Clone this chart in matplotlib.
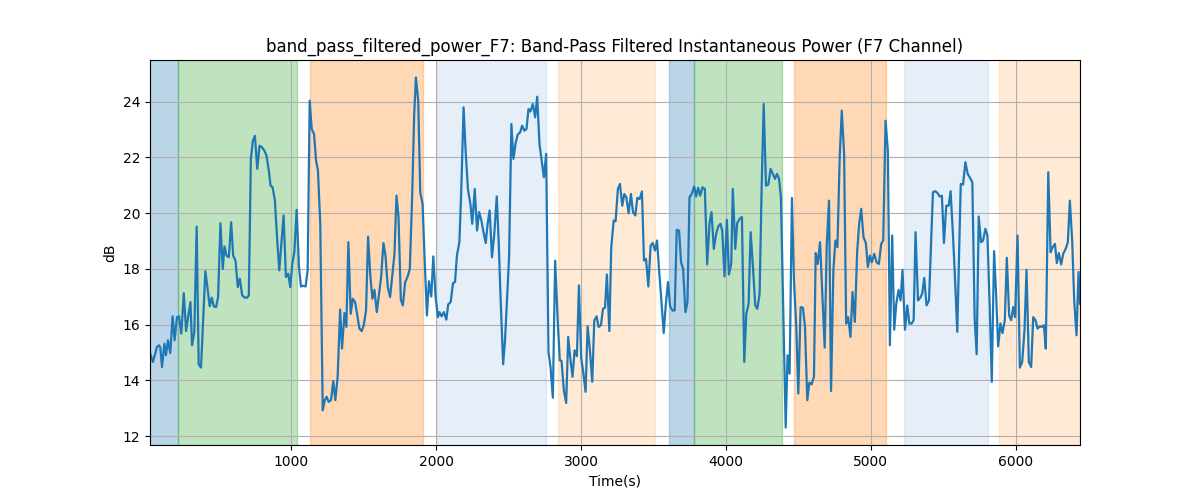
import matplotlib
matplotlib.use("Agg")
import matplotlib.pyplot as plt

times = [25, 45, 73, 87, 96, 108, 124, 135, 149, 165, 181, 195, 211, 225, 241, 258, 274, 288, 304, 315,
         331, 347, 361, 377, 407, 421, 437, 451, 465, 481, 495, 511, 527, 539, 553, 569, 585, 599, 615, 631,
         645, 661, 679, 695, 707, 721, 735, 749, 765, 781, 799, 815, 829, 845, 857, 871, 887, 903, 917, 947,
         963, 979, 993, 1007, 1021, 1037, 1053, 1067, 1083, 1099, 1113, 1127, 1141, 1157, 1171, 1184, 1200, 1217, 1231, 1244,
         1258, 1274, 1290, 1304, 1320, 1337, 1350, 1367, 1380, 1394, 1410, 1424, 1440, 1454, 1470, 1486, 1500, 1516, 1530, 1546,
         1560, 1574, 1590, 1606, 1620, 1636, 1650, 1666, 1682, 1696, 1712, 1726, 1740, 1756, 1770, 1786, 1802, 1818, 1834, 1848,
         1860, 1876, 1890, 1906, 1920, 1936, 1950, 1966, 1980, 1996, 2012, 2023, 2037, 2053, 2070, 2083, 2100, 2116, 2130, 2143,
         2160, 2173, 2189, 2203, 2219, 2236, 2249, 2266, 2282, 2296, 2312, 2325, 2342, 2355, 2369, 2385, 2401, 2418, 2431, 2445,
         2462, 2475, 2489, 2503, 2519, 2533, 2549, 2563, 2579, 2593, 2609, 2623, 2637, 2650, 2667, 2683, 2697, 2713, 2729, 2743,
         2759, 2775, 2789, 2805, 2821, 2837, 2853, 2865, 2881, 2897, 2911, 2927, 2941, 2955, 2971, 2985, 3001, 3015, 3031, 3045,
         3061, 3077, 3091, 3107, 3121, 3137, 3151, 3165, 3178, 3195, 3208, 3225, 3238, 3254, 3268, 3284, 3298, 3312, 3328, 3344,
         3358, 3374, 3388, 3404, 3420, 3434, 3448, 3464, 3480, 3494, 3510, 3524, 3540, 3554, 3570, 3584, 3600, 3614, 3630, 3646,
         3660, 3676, 3690, 3704, 3720, 3734, 3748, 3764, 3780, 3794, 3808, 3822, 3838, 3854, 3870, 3886, 3900, 3916, 3932, 3946,
         3962, 3974, 3990, 4006, 4020, 4036, 4047, 4064, 4077, 4094, 4110, 4126, 4140, 4156, 4170, 4186, 4202, 4216, 4232, 4246,
         4260, 4276, 4292, 4308, 4322, 4338, 4352, 4366, 4379, 4396, 4412, 4425, 4439, 4455, 4469, 4485, 4499, 4515, 4531, 4545,
         4561, 4575, 4591, 4607, 4619, 4633, 4649, 4665, 4681, 4695, 4711, 4725, 4741, 4755, 4769, 4785, 4799, 4815, 4829, 4843,
         4859, 4873, 4889, 4905, 4919, 4933, 4949, 4965, 4979, 4993, 5006, 5023, 5039, 5055, 5071, 5085, 5101, 5117, 5131, 5147,
         5161, 5175, 5191, 5205, 5218, 5235, 5251, 5265, 5281, 5295, 5308, 5325, 5341, 5354, 5368, 5384, 5401, 5414, 5428, 5444,
         5460, 5474, 5490, 5504, 5520, 5537, 5550, 5566, 5580, 5596, 5610, 5620, 5636, 5652, 5668, 5684, 5700, 5716, 5730, 5744,
         5760, 5774, 5790, 5804, 5820, 5834, 5850, 5864, 5878, 5894, 5908, 5924, 5938, 5954, 5968, 5982, 5995, 6012, 6028, 6044,
         6060, 6074, 6090, 6106, 6120, 6136, 6150, 6166, 6180, 6194, 6207, 6224, 6240, 6254, 6270, 6283, 6297, 6313, 6327, 6344,
         6359, 6373, 6389, 6403, 6419, 6433, 6443]

power_db = [14.98, 14.66, 15.2, 15.26, 15.18, 14.48, 15.32, 14.9, 15.44, 14.98, 16.3, 15.44, 16.27, 16.3, 15.68, 17.13, 15.77, 16.27, 16.81, 15.26,
            15.74, 19.52, 14.58, 14.46, 17.92, 17.35, 16.66, 16.97, 16.66, 16.63, 16.99, 19.64, 18.0, 18.81, 18.48, 18.42, 19.68, 18.48, 18.3, 17.35,
            17.65, 17.05, 16.97, 16.97, 17.05, 21.95, 22.6, 22.78, 21.59, 22.42, 22.36, 22.24, 22.07, 21.53, 20.99, 20.93, 20.45, 19.02, 17.95, 19.92,
            17.71, 17.83, 17.35, 18.18, 18.6, 20.12, 18.07, 17.37, 17.4, 17.37, 17.95, 24.04, 23.02, 22.84, 21.89, 21.53, 19.62, 12.93, 13.29, 13.41,
            13.23, 13.29, 13.98, 13.29, 14.13, 16.54, 15.14, 16.42, 15.92, 18.96, 16.39, 16.93, 16.81, 16.39, 15.86, 15.77, 15.98, 16.51, 19.16, 17.71,
            16.93, 17.25, 16.45, 17.11, 17.71, 18.93, 18.48, 17.35, 16.99, 17.71, 18.54, 20.63, 19.86, 16.9, 16.69, 17.53, 17.71, 18.0, 20.57, 23.5,
            24.87, 24.04, 20.75, 20.33, 18.4, 16.33, 17.56, 17.01, 18.45, 16.99, 16.27, 16.45, 16.3, 16.45, 16.18, 16.73, 16.81, 17.49, 17.53, 18.48,
            18.96, 20.81, 23.8, 22.24, 20.87, 20.33, 19.62, 20.87, 19.38, 20.04, 19.74, 19.36, 18.93, 19.62, 20.1, 18.42, 19.26, 20.6, 19.02, 16.87,
            14.58, 15.44, 16.97, 18.42, 23.2, 21.95, 22.54, 22.82, 22.9, 23.14, 22.96, 23.02, 23.74, 23.65, 23.92, 23.44, 24.18, 22.48, 21.83, 21.29,
            22.13, 15.02, 14.48, 13.38, 18.3, 16.33, 14.72, 14.7, 13.65, 13.19, 15.56, 14.72, 14.13, 15.08, 14.87, 17.41, 14.78, 14.3, 13.59, 15.94,
            15.08, 13.95, 16.15, 16.3, 15.92, 15.98, 16.57, 16.61, 17.8, 15.77, 18.76, 19.74, 19.71, 20.87, 21.05, 20.27, 20.69, 20.57, 20.0, 20.69,
            20.04, 19.92, 20.55, 20.51, 20.78, 18.3, 18.36, 17.37, 18.84, 18.93, 18.66, 19.02, 17.83, 16.87, 15.7, 16.69, 17.53, 16.66, 16.51, 16.51,
            19.4, 19.38, 18.24, 18.0, 16.45, 16.81, 20.57, 20.7, 20.96, 20.6, 20.91, 20.63, 20.93, 20.87, 18.16, 19.62, 20.04, 18.72, 19.26, 19.52,
            19.62, 19.38, 17.73, 19.76, 17.8, 18.18, 20.87, 18.72, 19.64, 19.8, 19.86, 14.66, 16.39, 16.75, 19.32, 18.07, 16.69, 16.57, 17.11, 20.93,
            23.92, 20.99, 21.03, 21.59, 21.43, 21.23, 21.41, 21.23, 20.57, 16.39, 12.31, 14.9, 14.24, 20.55, 17.59, 15.92, 13.53, 16.63, 16.61, 15.92,
            13.29, 13.92, 13.86, 14.13, 18.57, 18.18, 18.96, 17.05, 15.18, 18.84, 20.45, 13.62, 17.95, 19.02, 18.78, 22.07, 23.68, 22.13, 16.04, 16.27,
            15.56, 17.17, 16.1, 18.6, 19.62, 20.16, 19.14, 18.93, 18.07, 18.48, 18.24, 18.54, 18.24, 18.18, 18.9, 19.02, 23.32, 22.24, 15.26, 19.2,
            15.82, 16.75, 17.25, 16.87, 17.97, 15.82, 16.69, 16.04, 16.04, 16.16, 19.32, 16.87, 16.97, 17.11, 17.68, 16.69, 16.87, 18.78, 20.75, 20.79,
            20.72, 20.6, 20.63, 18.93, 20.27, 20.27, 20.79, 19.26, 17.71, 15.74, 18.78, 21.05, 21.03, 21.83, 21.41, 21.27, 21.11, 16.21, 14.94, 19.88,
            18.96, 19.02, 19.44, 19.2, 16.63, 13.95, 18.64, 17.11, 15.22, 16.04, 15.7, 16.16, 18.4, 16.33, 16.16, 16.63, 16.27, 19.2, 14.46, 14.66,
            15.8, 17.97, 14.66, 14.48, 16.27, 16.16, 15.86, 15.94, 15.92, 15.98, 15.14, 21.47, 18.6, 18.78, 18.9, 18.21, 18.57, 18.16, 18.54, 18.72,
            18.96, 20.45, 19.02, 16.87, 15.62, 17.89, 16.75]

span_starts = [25, 221, 1131, 2005, 2840, 3609, 3780, 4467, 5225, 5882]
span_ends = [221, 1037, 1911, 2761, 3510, 3780, 4387, 5101, 5811, 6443]
span_colors = ["#1f77b4", "#2ca02c", "#ff7f0e", "#aec7e8", "#ffbb78",
               "#1f77b4", "#2ca02c", "#ff7f0e", "#aec7e8", "#ffbb78"]

fig, ax = plt.subplots(figsize=(12, 5), dpi=100)
for s, e, c in zip(span_starts, span_ends, span_colors):
    ax.axvspan(s, e, color=c, alpha=0.3)
ax.plot(times, power_db, color="#1f77b4", linewidth=1.6)
ax.set_xlim(times[0], times[-1])
ax.grid(True)
ax.set_title("band_pass_filtered_power_F7: Band-Pass Filtered Instantaneous Power (F7 Channel)")
ax.set_xlabel("Time(s)")
ax.set_ylabel("dB")
fig.savefig("out.png")
